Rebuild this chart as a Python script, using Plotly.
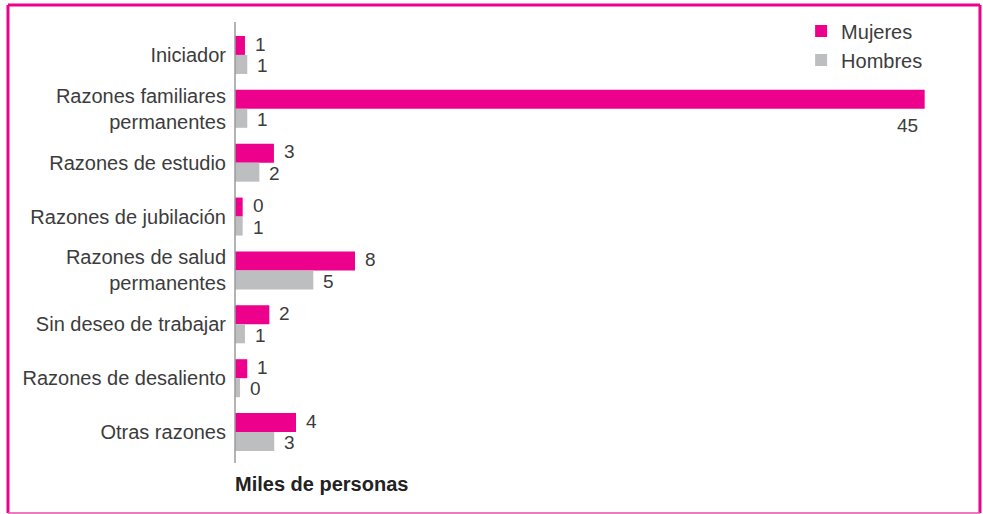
import plotly.graph_objects as go

categorias = ["Iniciador", "Razones familiares<br>permanentes", "Razones de estudio",
              "Razones de jubilación", "Razones de salud<br>permanentes", "Sin deseo de trabajar",
              "Razones de desaliento", "Otras razones"]
mujeres = [0.65, 45, 2.54, 0.50, 7.83, 2.24, 0.80, 3.98]
hombres = [0.80, 0.80, 1.59, 0.50, 5.11, 0.65, 0.33, 2.56]
mujeres_txt = ["1", "45", "3", "0", "8", "2", "1", "4"]
hombres_txt = ["1", "1", "2", "1", "5", "1", "0", "3"]

MAGENTA = "#EC008C"
GRIS = "#BDBEC0"
TXT = "#3c3c3c"
FONT = "Liberation Sans"

fig = go.Figure()
fig.add_trace(go.Bar(y=categorias, x=mujeres, orientation="h", name="Mujeres",
                     marker=dict(color=MAGENTA, line=dict(width=0))))
fig.add_trace(go.Bar(y=categorias, x=hombres, orientation="h", name="Hombres",
                     marker=dict(color=GRIS, line=dict(width=0))))

annots = []
lbl = dict(showarrow=False, height=17, font=dict(size=19, color=TXT))
for cat, v, t in zip(categorias, mujeres, mujeres_txt):
    if v > 40:
        annots.append(dict(x=v, y=cat, text=t, xanchor="right", xshift=-5, yshift=-17, **lbl))
    else:
        annots.append(dict(x=v, y=cat, text=t, xanchor="left", xshift=8, yshift=10.8, **lbl))
for cat, v, t in zip(categorias, hombres, hombres_txt):
    annots.append(dict(x=v, y=cat, text=t, xanchor="left", xshift=8, yshift=-10.8, **lbl))

annots.append(dict(x=-0.003, y=-0.058, xref="paper", yref="paper", text="<b>Miles de personas</b>",
                   showarrow=False, xanchor="left", yanchor="middle",
                   font=dict(size=20, color="#222")))

shapes = [
    dict(type="line", xref="paper", yref="paper", x0=0, x1=0, y0=-0.0093, y1=1.014,
         line=dict(color="#9a9a9a", width=1.5)),
    dict(type="line", xref="paper", yref="paper", x0=-0.322, x1=1.0567, y0=1.0534, y1=1.0534,
         line=dict(color=MAGENTA, width=3)),
    dict(type="line", xref="paper", yref="paper", x0=-0.322, x1=-0.322, y0=-0.1253, y1=1.0534,
         line=dict(color=MAGENTA, width=3)),
    dict(type="line", xref="paper", yref="paper", x0=1.0567, x1=1.0567, y0=-0.1253, y1=1.0534,
         line=dict(color=MAGENTA, width=3)),
    dict(type="line", xref="paper", yref="paper", x0=-0.322, x1=1.0567, y0=-0.1253, y1=-0.1253,
         line=dict(color="#E64EA6", width=1.5)),
]

fig.update_layout(
    width=983, height=514,
    margin=dict(l=235, r=43, t=28, b=55),
    paper_bgcolor="white", plot_bgcolor="white",
    barmode="group", bargap=0.295, bargroupgap=0,
    font=dict(family=FONT, size=20, color=TXT),
    xaxis=dict(range=[0, 46], visible=False, showgrid=False, zeroline=False),
    yaxis=dict(autorange="reversed", showgrid=False, zeroline=False, showline=False,
               ticks="", ticklabelstandoff=8, tickfont=dict(size=20, color=TXT)),
    legend=dict(x=0.803, y=1.038, xanchor="left", yanchor="top", bgcolor="rgba(0,0,0,0)",
                font=dict(size=20, color=TXT), tracegroupgap=0),
    annotations=annots,
    shapes=shapes,
    showlegend=True,
)

fig.write_html("out.html", config={"displayModeBar": False},
               post_script="document.body.style.margin='0';document.body.style.overflow='hidden';")
